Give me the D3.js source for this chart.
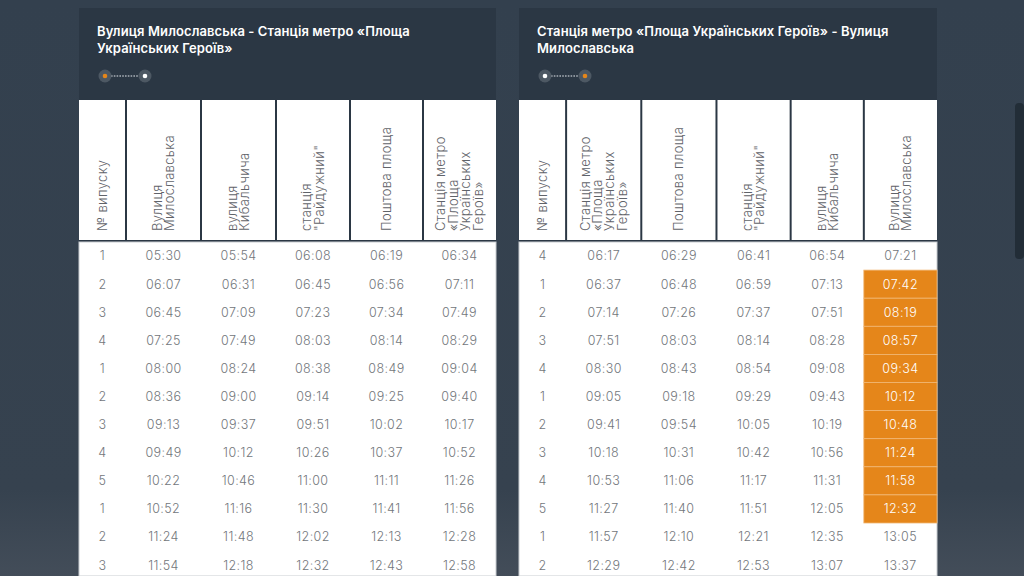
<!DOCTYPE html>
<html>
<head>
<meta charset="utf-8">
<script src="https://cdn.jsdelivr.net/npm/d3@7.9.0/dist/d3.min.js"></script>
<style>
  html, body { margin: 0; padding: 0; overflow: hidden; }
  body { width: 1024px; height: 576px; background: #34414f; }
  svg { display: block; font-family: Inter, "Noto Sans", sans-serif; }
</style>
</head>
<body>
<svg id="chart" width="1024" height="576"></svg>
<script>
// ---- data ----
const titleA = ["Вулиця Милославська - Станція метро «Площа", "Українських Героїв»"];
const titleB = ["Станція метро «Площа Українських Героїв» - Вулиця", "Милославська"];

const headersA = [
  ["№ випуску"],
  ["Вулиця", "Милославська"],
  ["вулиця", "Кибальчича"],
  ["станція", "\"Райдужний\""],
  ["Поштова площа"],
  ["Станція метро", "«Площа", "Українських", "Героїв»"]
];
const headersB = [
  ["№ випуску"],
  ["Станція метро", "«Площа", "Українських", "Героїв»"],
  ["Поштова площа"],
  ["станція", "\"Райдужний\""],
  ["вулиця", "Кибальчича"],
  ["Вулиця", "Милославська"]
];

// напрямок A: Вулиця Милославська -> метро
const busA = ["1", "2", "3", "4", "1", "2", "3", "4", "5", "1", "2", "3"];
const milA = ["05:30", "06:07", "06:45", "07:25", "08:00", "08:36", "09:13", "09:49", "10:22", "10:52", "11:24", "11:54"];
const kybA = ["05:54", "06:31", "07:09", "07:49", "08:24", "09:00", "09:37", "10:12", "10:46", "11:16", "11:48", "12:18"];
const raiA = ["06:08", "06:45", "07:23", "08:03", "08:38", "09:14", "09:51", "10:26", "11:00", "11:30", "12:02", "12:32"];
const poshA = ["06:19", "06:56", "07:34", "08:14", "08:49", "09:25", "10:02", "10:37", "11:11", "11:41", "12:13", "12:43"];
const metroA = ["06:34", "07:11", "07:49", "08:29", "09:04", "09:40", "10:17", "10:52", "11:26", "11:56", "12:28", "12:58"];

// напрямок B: метро -> Вулиця Милославська
const busB = ["4", "1", "2", "3", "4", "1", "2", "3", "4", "5", "1", "2"];
const metroB = ["06:17", "06:37", "07:14", "07:51", "08:30", "09:05", "09:41", "10:18", "10:53", "11:27", "11:57", "12:29"];
const poshB = ["06:29", "06:48", "07:26", "08:03", "08:43", "09:18", "09:54", "10:31", "11:06", "11:40", "12:10", "12:42"];
const raiB = ["06:41", "06:59", "07:37", "08:14", "08:54", "09:29", "10:05", "10:42", "11:17", "11:51", "12:21", "12:53"];
const kybB = ["06:54", "07:13", "07:51", "08:28", "09:08", "09:43", "10:19", "10:56", "11:31", "12:05", "12:35", "13:07"];
const milB = ["07:21", "07:42", "08:19", "08:57", "09:34", "10:12", "10:48", "11:24", "11:58", "12:32", "13:05", "13:37"];
// виділені рейси (останній стовпчик)
const highlightB = [false, true, true, true, true, true, true, true, true, true, false, false];
const highlightA = busA.map(() => false);

// ---- layout ----
const W = 1024, H = 576;
const colWeights = [47, 75, 75, 74, 73, 73];
const headTop = 8, headBottom = 99, colHeadBottom = 240, bodyTop = 242, rowH = 28.1;
const darkHead = "#2b3744";
const orange = "#e5861a";

const svg = d3.select("#chart");

// background
const defs = svg.append("defs");
const bg = defs.append("linearGradient").attr("id", "bg").attr("x1", 0).attr("y1", 0).attr("x2", 0).attr("y2", 1);
bg.append("stop").attr("offset", "0%").attr("stop-color", "#33404e");
bg.append("stop").attr("offset", "85%").attr("stop-color", "#36424f");
bg.append("stop").attr("offset", "100%").attr("stop-color", "#434d59");
svg.append("rect").attr("width", W).attr("height", H).attr("fill", "url(#bg)");

// scrollbar
svg.append("rect").attr("x", 1015).attr("y", 103).attr("width", 9).attr("height", 156)
  .attr("rx", 4).attr("fill", "#222d37");

function drawPanel(x0, x1, title, headers, columns, highlight, dotsOrange) {
  const g = svg.append("g");

  const cum = [0];
  colWeights.forEach(w => cum.push(cum[cum.length - 1] + w));
  const x = d3.scaleLinear().domain([0, cum[cum.length - 1]]).range([x0, x1]);
  const edges = cum.map(c => x(c));
  const centers = edges.slice(0, -1).map((e, i) => (e + edges[i + 1]) / 2);

  const nRows = columns[0].length;
  const y = d3.scaleBand().domain(d3.range(nRows)).range([bodyTop, bodyTop + nRows * rowH]);

  // header block
  g.append("rect").attr("x", x0).attr("y", headTop).attr("width", x1 - x0)
    .attr("height", colHeadBottom + 2 - headTop).attr("fill", darkHead);

  g.selectAll("text.title").data(title).join("text")
    .attr("class", "title")
    .attr("x", x0 + 18)
    .attr("y", (d, i) => 36 + i * 17)
    .attr("fill", "#ffffff")
    .attr("font-size", 13)
    .attr("font-weight", 600)
    .attr("letter-spacing", 0.1)
    .text(d => d);

  // route icon
  const icon = g.append("g").attr("transform", `translate(${x0 + 26},76)`);
  icon.append("line").attr("x1", 6).attr("x2", 34).attr("y1", 0).attr("y2", 0)
    .attr("stroke", "#e8ecef").attr("stroke-width", 1.2).attr("stroke-dasharray", "1.6,1.2");
  [0, 40].forEach((cx, i) => {
    icon.append("circle").attr("cx", cx).attr("cy", 0).attr("r", 6.5).attr("fill", "#4d5863");
    icon.append("circle").attr("cx", cx).attr("cy", 0).attr("r", 2.3)
      .attr("fill", dotsOrange[i] ? orange : "#ffffff");
  });

  // column header cells
  g.selectAll("rect.hcell").data(headers).join("rect")
    .attr("class", "hcell")
    .attr("x", (d, i) => edges[i] + (i === 0 ? 0 : 1))
    .attr("y", headBottom + 1)
    .attr("width", (d, i) => edges[i + 1] - edges[i] - (i === 0 ? 1 : 2) + (i === headers.length - 1 ? 1 : 0))
    .attr("height", colHeadBottom - headBottom - 1)
    .attr("fill", "#ffffff");

  const lh = 12.4;
  headers.forEach((lines, i) => {
    lines.forEach((line, k) => {
      const cx = centers[i] + (k - (lines.length - 1) / 2) * lh;
      g.append("text")
        .attr("transform", `translate(${cx},231) rotate(-90)`)
        .attr("dy", "0.35em")
        .attr("fill", "#5f6369")
        .attr("font-size", 13)
        .attr("font-weight", 300)
        .attr("letter-spacing", 0.35)
        .text(line);
    });
  });

  // body
  g.append("rect").attr("x", x0).attr("y", bodyTop).attr("width", x1 - x0)
    .attr("height", H - bodyTop).attr("fill", "#ffffff")
    .attr("stroke", "#c9cdd1").attr("stroke-width", 1);

  const last = columns.length - 1;
  g.selectAll("rect.hl").data(highlight.map((h, r) => ({ h, r })).filter(d => d.h)).join("rect")
    .attr("class", "hl")
    .attr("x", edges[last])
    .attr("y", d => y(d.r))
    .attr("width", edges[last + 1] - edges[last])
    .attr("height", y.bandwidth())
    .attr("fill", orange)
    .attr("stroke", "#f1b774")
    .attr("stroke-width", 0.8);

  columns.forEach((col, ci) => {
    g.selectAll(`text.c${ci}`).data(col).join("text")
      .attr("class", `c${ci}`)
      .attr("x", centers[ci])
      .attr("y", (d, r) => y(r) + y.bandwidth() / 2)
      .attr("dy", "0.35em")
      .attr("text-anchor", "middle")
      .attr("font-size", 12.5)
      .attr("font-weight", 300)
      .attr("letter-spacing", 0.4)
      .attr("fill", (d, r) => ci === last && highlight[r] ? "#ffffff" : "#72767b")
      .text(d => d);
  });
}

drawPanel(79, 496, titleA, headersA, [busA, milA, kybA, raiA, poshA, metroA], highlightA, [true, false]);
drawPanel(519, 937, titleB, headersB, [busB, metroB, poshB, raiB, kybB, milB], highlightB, [false, true]);
</script>
</body>
</html>
